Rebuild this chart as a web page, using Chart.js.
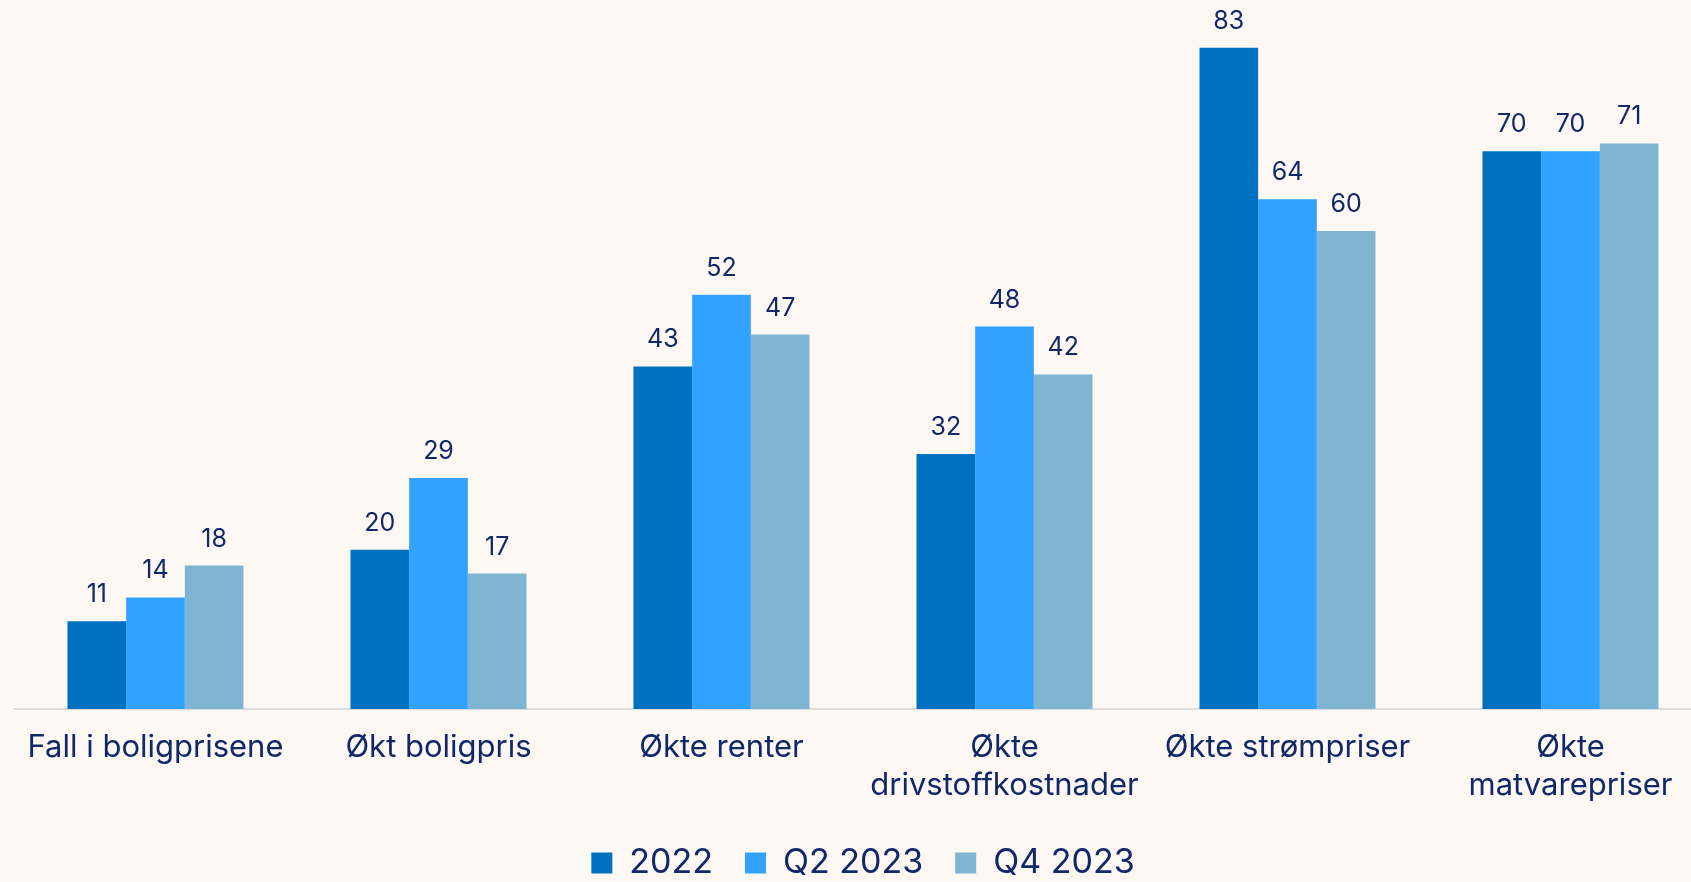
<!DOCTYPE html>
<html>
<head>
<meta charset="utf-8">
<script src="https://cdn.jsdelivr.net/npm/chart.js@4"></script>
<style>
  html, body { margin: 0; padding: 0; background: #fdf8f4; overflow: hidden; }
  #wrap { width: 1691px; height: 882px; overflow: hidden; }
</style>
</head>
<body>
<div id="wrap">
  <canvas id="chart" width="1712" height="882"></canvas>
</div>
<script>
const categories = [
  'Fall i boligprisene',
  'Økt boligpris',
  'Økte renter',
  ['Økte', 'drivstoffkostnader'],
  'Økte strømpriser',
  ['Økte', 'matvarepriser']
];
const seriesNames = ['2022', 'Q2 2023', 'Q4 2023'];
const values2022 = [11, 20, 43, 32, 83, 70];
const valuesQ2 = [14, 29, 52, 48, 64, 70];
const valuesQ4 = [18, 17, 47, 42, 60, 71];
const colors = ['#0070c0', '#31a2ff', '#7fb4d3'];

const textColor = '#10286a';
const fontFamily = 'Inter, "Noto Sans", sans-serif';
const legendShift = 8; // pulls the legend down towards the canvas edge

// numbers over the bars
const valueLabels = {
  id: 'valueLabels',
  afterDatasetsDraw(chart) {
    const ctx = chart.ctx;
    ctx.save();
    ctx.font = '25px ' + fontFamily;
    ctx.fillStyle = textColor;
    ctx.textAlign = 'center';
    ctx.textBaseline = 'alphabetic';
    chart.data.datasets.forEach((ds, i) => {
      chart.getDatasetMeta(i).data.forEach((bar, j) => {
        ctx.fillText(ds.data[j], bar.x, bar.y - 19);
      });
    });
    ctx.restore();
  }
};

Chart.defaults.font.family = fontFamily;
Chart.defaults.color = textColor;

new Chart(document.getElementById('chart').getContext('2d'), {
  type: 'bar',
  data: {
    labels: categories,
    datasets: [
      { label: seriesNames[0], data: values2022, backgroundColor: colors[0] },
      { label: seriesNames[1], data: valuesQ2, backgroundColor: colors[1] },
      { label: seriesNames[2], data: valuesQ4, backgroundColor: colors[2] }
    ]
  },
  options: {
    responsive: false,
    animation: false,
    devicePixelRatio: 1,
    layout: { padding: { left: 14, right: 0, top: 0, bottom: -legendShift } },
    datasets: {
      bar: { barPercentage: 1, categoryPercentage: 0.622 }
    },
    plugins: {
      legend: {
        position: 'bottom',
        labels: {
          boxWidth: 21,
          boxHeight: 21,
          padding: 32,
          font: { size: 34 },
          color: textColor
        }
      },
      tooltip: { enabled: false }
    },
    scales: {
      x: {
        grid: { display: false, drawTicks: false },
        border: { display: true, color: '#dcdcdc', width: 2 },
        ticks: {
          padding: 19,
          font: { size: 31, lineHeight: 1.24 },
          color: textColor,
          maxRotation: 0,
          autoSkip: false
        },
        afterFit(scale) {
          // keep the baseline at the same place as the reference
          const legendH = scale.chart.legend ? scale.chart.legend.height : 0;
          scale.height = scale.chart.height + legendShift - 709 - legendH;
        }
      },
      y: {
        display: false,
        min: 0,
        max: 89
      }
    }
  },
  plugins: [valueLabels]
});
</script>
</body>
</html>
